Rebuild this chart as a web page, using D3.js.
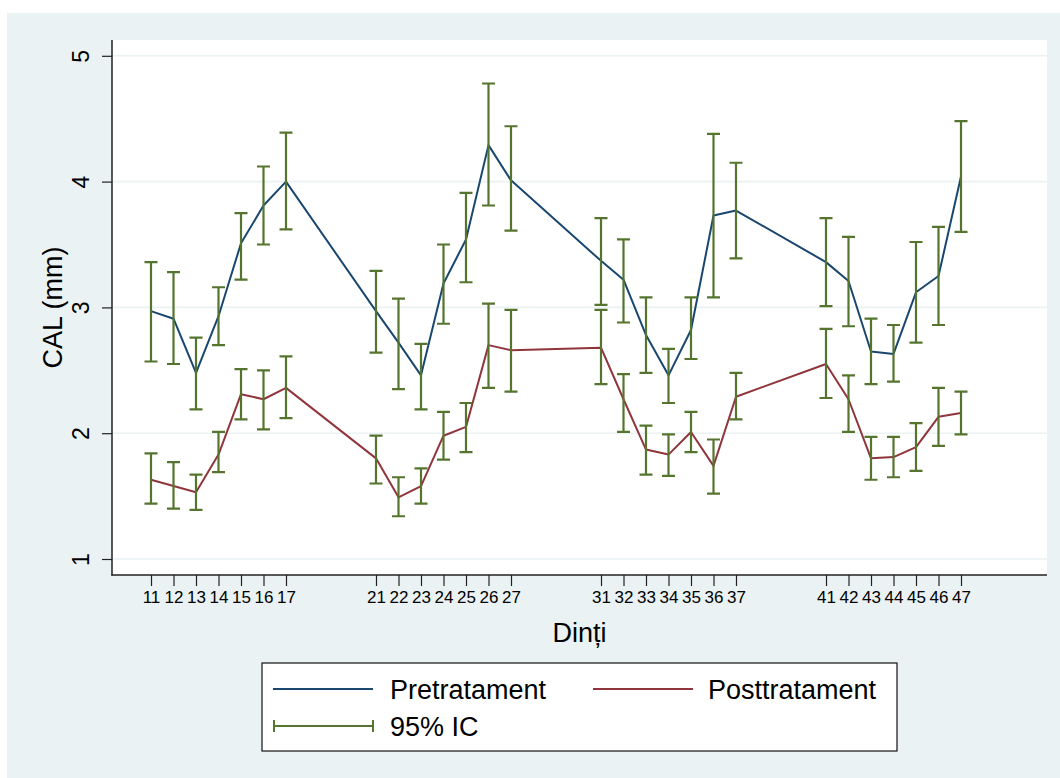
<!DOCTYPE html>
<html>
<head>
<meta charset="utf-8">
<script src="https://cdn.jsdelivr.net/npm/d3@7"></script>
<style>
  html, body { margin: 0; padding: 0; background: #ffffff; }
  svg text { font-family: "Liberation Sans", Arial, Helvetica, sans-serif; fill: #000; }
</style>
</head>
<body>
<svg id="chart" width="1060" height="778"></svg>
<script>
// Tooth numbers (FDI notation) on the x axis
const teeth = [11,12,13,14,15,16,17, 21,22,23,24,25,26,27, 31,32,33,34,35,36,37, 41,42,43,44,45,46,47];

// Mean CAL (mm) before treatment, with 95% CI bounds
const preMean = [2.97,2.91,2.48,2.93,3.51,3.81,4.00, 2.97,2.72,2.46,3.19,3.54,4.29,4.01, 3.37,3.22,2.78,2.46,2.82,3.73,3.77, 3.36,3.21,2.65,2.63,3.12,3.25,4.04];
const preLow  = [2.57,2.55,2.19,2.70,3.22,3.50,3.62, 2.64,2.35,2.19,2.87,3.20,3.81,3.61, 3.02,2.88,2.48,2.24,2.59,3.08,3.39, 3.01,2.85,2.39,2.41,2.72,2.86,3.60];
const preHigh = [3.36,3.28,2.76,3.16,3.75,4.12,4.39, 3.29,3.07,2.71,3.50,3.91,4.78,4.44, 3.71,3.54,3.08,2.67,3.08,4.38,4.15, 3.71,3.56,2.91,2.86,3.52,3.64,4.48];

// Mean CAL (mm) after treatment, with 95% CI bounds
const postMean = [1.63,1.58,1.53,1.83,2.31,2.27,2.36, 1.80,1.49,1.58,1.98,2.05,2.70,2.66, 2.68,2.27,1.87,1.83,2.01,1.74,2.29, 2.55,2.27,1.80,1.81,1.89,2.13,2.16];
const postLow  = [1.44,1.40,1.39,1.69,2.11,2.03,2.12, 1.60,1.34,1.44,1.79,1.85,2.36,2.33, 2.39,2.01,1.67,1.66,1.85,1.52,2.11, 2.28,2.01,1.63,1.65,1.70,1.90,1.99];
const postHigh = [1.84,1.77,1.67,2.01,2.51,2.50,2.61, 1.98,1.65,1.72,2.17,2.24,3.03,2.98, 2.98,2.47,2.06,1.99,2.17,1.95,2.48, 2.83,2.46,1.97,1.97,2.08,2.36,2.33];

const yTicks = [1, 2, 3, 4, 5];
const seriesNames = ["Pretratament", "Posttratament", "95% IC"];

const C = {
  bg: "#eaf2f3",
  grid: "#eaf2f3",
  pre: "#1a476f",
  post: "#90353b",
  ci: "#55752f"
};

const svg = d3.select("#chart");

// outer graph region
svg.append("rect").attr("x", 7).attr("y", 13).attr("width", 1053).attr("height", 765).attr("fill", C.bg);

// plot region
const plot = { left: 112, top: 40, right: 1047, bottom: 575 };
svg.append("rect")
  .attr("x", plot.left).attr("y", plot.top)
  .attr("width", plot.right - plot.left).attr("height", plot.bottom - plot.top)
  .attr("fill", "#ffffff");

const x = d3.scaleLinear().domain([11, 47]).range([151, 961]);
const y = d3.scaleLinear().domain([1, 5]).range([559, 55.8]);

// horizontal grid lines
svg.append("g").selectAll("line").data(yTicks).join("line")
  .attr("x1", plot.left).attr("x2", plot.right)
  .attr("y1", d => y(d)).attr("y2", d => y(d))
  .attr("stroke", C.grid).attr("stroke-width", 1.6);

// y axis
const yAxis = svg.append("g").attr("transform", `translate(${plot.left},0)`)
  .call(d3.axisLeft(y).tickValues(yTicks).tickSize(10).tickPadding(0).tickFormat(d3.format("d")));
yAxis.select(".domain").remove();
yAxis.selectAll(".tick line").attr("stroke", "#222").attr("stroke-width", 1.2);
yAxis.selectAll(".tick text")
  .attr("x", null).attr("dy", null)
  .attr("transform", "translate(-23,0) rotate(-90)")
  .attr("text-anchor", "middle")
  .attr("font-size", 23)
  .style("font-family", "'Liberation Sans', Arial, sans-serif");
svg.append("line")
  .attr("x1", plot.left).attr("x2", plot.left)
  .attr("y1", plot.top).attr("y2", plot.bottom + 0.5)
  .attr("stroke", "#222").attr("stroke-width", 1.5);

// x axis
const xAxis = svg.append("g").attr("transform", `translate(0,${plot.bottom})`)
  .call(d3.axisBottom(x).tickValues(teeth).tickSize(11).tickPadding(5).tickFormat(d3.format("d")));
xAxis.select(".domain").remove();
xAxis.selectAll(".tick line").attr("stroke", "#222").attr("stroke-width", 1.2);
xAxis.selectAll(".tick text")
  .attr("font-size", 17)
  .attr("dy", "0.72em")
  .style("font-family", "'Liberation Sans', Arial, sans-serif");
svg.append("line")
  .attr("x1", plot.left - 0.75).attr("x2", plot.right)
  .attr("y1", plot.bottom).attr("y2", plot.bottom)
  .attr("stroke", "#222").attr("stroke-width", 1.5);

// axis titles
svg.append("text")
  .attr("transform", `translate(62,${(plot.top + plot.bottom) / 2}) rotate(-90)`)
  .attr("text-anchor", "middle").attr("font-size", 27)
  .text("CAL (mm)");
svg.append("text")
  .attr("x", (plot.left + plot.right) / 2).attr("y", 642)
  .attr("text-anchor", "middle").attr("font-size", 27)
  .text("Dinți");

// mean lines
const rowsPre = teeth.map((t, i) => ({ t, m: preMean[i], lo: preLow[i], hi: preHigh[i] }));
const rowsPost = teeth.map((t, i) => ({ t, m: postMean[i], lo: postLow[i], hi: postHigh[i] }));
const line = d3.line().x(d => x(d.t)).y(d => y(d.m));

svg.append("path").datum(rowsPre).attr("d", line)
  .attr("fill", "none").attr("stroke", C.pre).attr("stroke-width", 2).attr("stroke-linejoin", "round");
svg.append("path").datum(rowsPost).attr("d", line)
  .attr("fill", "none").attr("stroke", C.post).attr("stroke-width", 2).attr("stroke-linejoin", "round");

// 95% CI capped bars
const capHalf = 6.5;
function drawCaps(rows) {
  const g = svg.append("g").attr("stroke", C.ci).attr("stroke-width", 2.2).attr("fill", "none");
  g.selectAll("path").data(rows).join("path")
    .attr("d", d => {
      const cx = x(d.t), y0 = y(d.lo), y1 = y(d.hi);
      return `M${cx},${y0}V${y1}M${cx - capHalf},${y1}H${cx + capHalf}M${cx - capHalf},${y0}H${cx + capHalf}`;
    });
}
drawCaps(rowsPre);
drawCaps(rowsPost);

// legend
const lg = svg.append("g");
lg.append("rect").attr("x", 262).attr("y", 663).attr("width", 635).attr("height", 88)
  .attr("fill", "#ffffff").attr("stroke", "#111").attr("stroke-width", 1.2);

lg.append("line").attr("x1", 273).attr("x2", 373).attr("y1", 689).attr("y2", 689)
  .attr("stroke", C.pre).attr("stroke-width", 2);
lg.append("text").attr("x", 390).attr("y", 699).attr("font-size", 27).text(seriesNames[0]);

lg.append("line").attr("x1", 593).attr("x2", 693).attr("y1", 689).attr("y2", 689)
  .attr("stroke", C.post).attr("stroke-width", 2);
lg.append("text").attr("x", 708).attr("y", 699).attr("font-size", 27).text(seriesNames[1]);

lg.append("path").attr("d", "M274,726H373M274,720V732M373,720V732")
  .attr("stroke", C.ci).attr("stroke-width", 2).attr("fill", "none");
lg.append("text").attr("x", 390).attr("y", 736).attr("font-size", 27).text(seriesNames[2]);
</script>
</body>
</html>
